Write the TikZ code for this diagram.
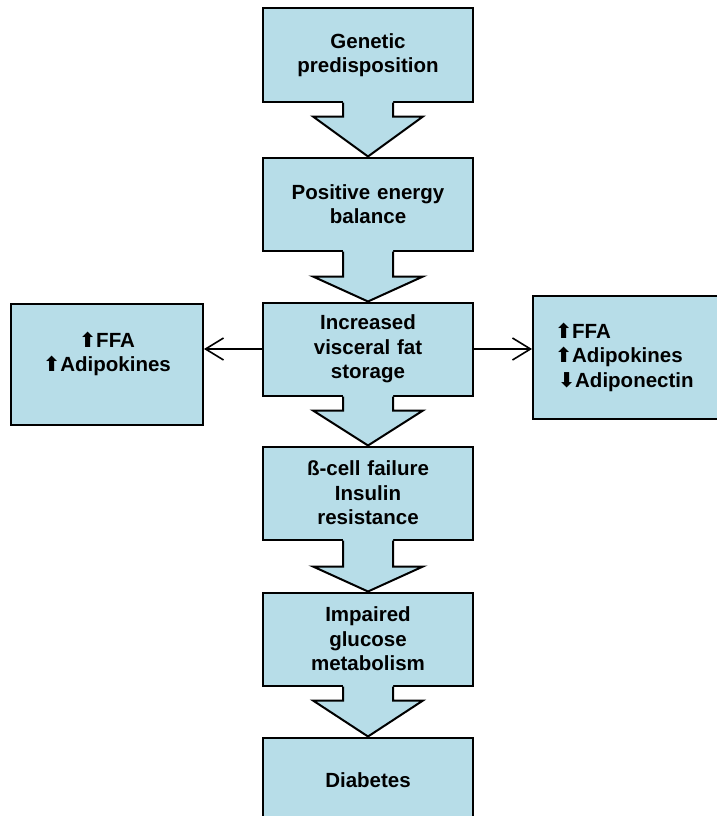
\documentclass[tikz,border=0pt]{standalone}
\usepackage{fontspec}
\setmainfont{Liberation Sans}
\newfontfamily\symfont{DejaVu Sans}
\usepackage{tikz}
\usetikzlibrary{positioning,arrows.meta,calc}
\definecolor{boxblue}{RGB}{183,221,232}
\tikzstyle{block} = [rectangle, draw, line width=2pt, fill=boxblue,
text width=190pt, align=center, minimum width=210pt, minimum height=93pt,
font=\fontsize{20.5}{24.5}\selectfont\bfseries]
\tikzstyle{sidebox} = [rectangle, draw, line width=2pt, fill=boxblue,
font=\fontsize{20.5}{24.5}\selectfont\bfseries]
\tikzstyle{line} = [draw, line width=1.6pt, -{Straight Barb[length=18pt,width=22pt]}]
\newcommand{\up}{{\symfont ⬆}}
\newcommand{\down}{{\symfont ⬇}}
% fat block arrow from the bottom of #1 to the top of #2, shaft length #3
\newcommand{\flow}[3]{%
  \fill[boxblue] let \p1=(#1.south), \p2=(#2.north) in
    (\x1-25pt,\y1+2pt) -- (\x1-25pt,\y1-#3pt) -- (\x1-55pt,\y1-#3pt) -- (\x1,\y2)
    -- (\x1+55pt,\y1-#3pt) -- (\x1+25pt,\y1-#3pt) -- (\x1+25pt,\y1+2pt) -- cycle;
  \draw[line width=2pt] let \p1=(#1.south), \p2=(#2.north) in
    (\x1-25pt,\y1) -- (\x1-25pt,\y1-#3pt) -- (\x1-55pt,\y1-#3pt) -- (\x1,\y2)
    -- (\x1+55pt,\y1-#3pt) -- (\x1+25pt,\y1-#3pt) -- (\x1+25pt,\y1);}

\begin{document}
\begin{tikzpicture}[x=1pt, y=-1pt]
	\useasboundingbox (0,0) rectangle (717,816);
	% Place nodes
	\node [block] at (368,55) (gen) {Genetic\\predisposition};
	\node [block, below=54pt of gen] (energy) {Positive energy\\balance};
	\node [block, below=50pt of energy] (fat) {Increased\\visceral fat\\storage};
	\node [block, below=49pt of fat] (beta) {ß-cell failure\\Insulin\\resistance};
	\node [block, below=51pt of beta] (glucose) {Impaired\\glucose\\metabolism};
	\node [block, below=50pt of glucose, minimum height=86pt] (diab) {Diabetes};
	\node [sidebox, left=58pt of fat, yshift=-15pt, minimum width=192pt,
	  minimum height=121pt, align=center] (ffaL) {\up FFA\\\up Adipokines\\~};
	\node [sidebox, right=58pt of fat, yshift=-8pt, text width=162pt, inner xsep=22pt,
	  minimum height=123pt, align=left] (ffaR) {\up FFA\\\up Adipokines\\\hspace{3pt}\down Adiponectin};

	\flow{gen}{energy}{14}
	\flow{energy}{fat}{25}
	\flow{fat}{beta}{14}
	\flow{beta}{glucose}{26}
	\flow{glucose}{diab}{14}
	\path [line] (fat.west) -- (fat.west -| ffaL.east);
	\path [line] (fat.east) -- (fat.east -| ffaR.west);
\end{tikzpicture}
\end{document}
